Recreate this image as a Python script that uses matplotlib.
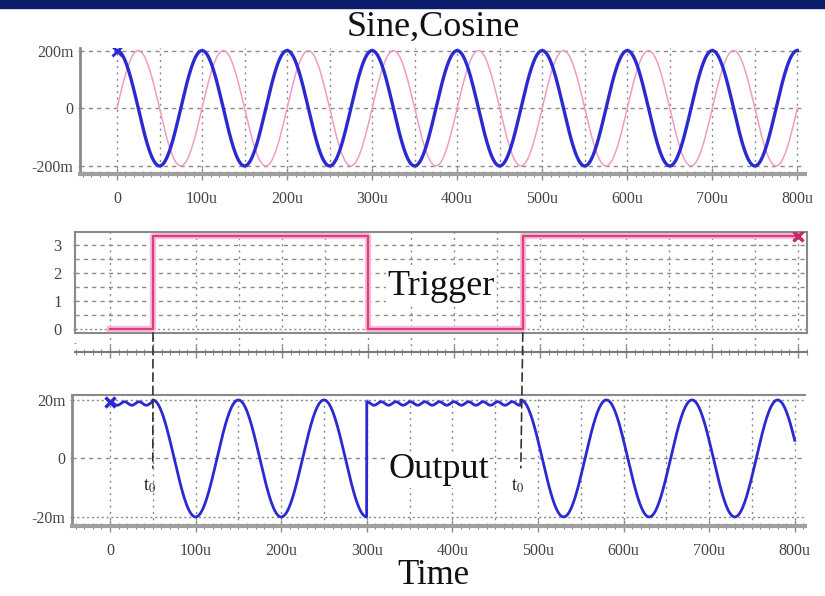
import numpy as np
import matplotlib
matplotlib.use('Agg')
import matplotlib.pyplot as plt
from matplotlib.patches import Rectangle, ConnectionPatch
from matplotlib.ticker import MultipleLocator

plt.rcParams['font.family'] = ['Liberation Serif', 'DejaVu Serif']
plt.rcParams['mathtext.fontset'] = 'stix'

# signal parameters
t_stop = 800e-6
sine_amp = 0.2          # V
sine_period = 100e-6    # s

trig_t = [0, 50e-6, 300e-6, 480e-6, 800e-6]
trig_v = [0, 3.3, 0, 3.3, 3.3]

out_amp = 0.02
out_period = 100e-6
out_hold_level = 0.0188
out_ripple = 0.0006
out_ripple_period = 17e-6
t0_marks = [50e-6, 480e-6]

xtick_vals = [0, 100e-6, 200e-6, 300e-6, 400e-6, 500e-6, 600e-6, 700e-6, 800e-6]
xtick_labels = ['0', '100u', '200u', '300u', '400u', '500u', '600u', '700u', '800u']
y1_ticks = [-0.2, 0, 0.2]
y1_labels = ['-200m', '0', '200m']
y2_ticks = [0, 1, 2, 3]
y3_ticks = [-0.02, 0, 0.02]
y3_labels = ['-20m', '0', '20m']

W, H = 825, 596
t = np.linspace(0, t_stop, 4001)
cosine = sine_amp * np.cos(2 * np.pi * t / sine_period)
sine = sine_amp * np.sin(2 * np.pi * t / sine_period)

# output: holds while trigger is low, oscillates while trigger is high
out = np.empty_like(t)
for i, ti in enumerate(t):
    if ti < 50e-6:
        out[i] = out_hold_level + out_ripple * np.cos(2 * np.pi * ti / out_ripple_period)
    elif ti <= 300e-6:
        out[i] = out_amp * np.cos(2 * np.pi * (ti - 50e-6) / out_period)
    elif ti < 480e-6:
        out[i] = out_hold_level + out_ripple * np.cos(2 * np.pi * (ti - 300e-6) / out_ripple_period)
    else:
        out[i] = out_amp * np.cos(2 * np.pi * (ti - 480e-6) / out_period)

fig = plt.figure(figsize=(W / 100, H / 100), dpi=100)
fig.patches.append(Rectangle((0, 1 - 8 / H), 1, 8 / H, transform=fig.transFigure,
                             color='#0c1b6c', zorder=0))

def px_axes(left, right, top, bottom):
    return fig.add_axes([left / W, 1 - bottom / H, (right - left) / W, (bottom - top) / H])

grid_c = '#8a8a8a'
tick_c = '#444444'
blue = '#2a2ad2'
pink = '#e03a80'

def vgrid(ax, y0, y1):
    for x in np.arange(0, 801e-6, 50e-6):
        ax.plot([x, x], [y0, y1], color=grid_c, lw=1, ls=(0, (1.5, 3)), zorder=1)

def ruler_x(ax):
    ax.xaxis.set_minor_locator(MultipleLocator(10e-6))
    ax.tick_params(axis='x', which='both', direction='inout', colors=grid_c, labelcolor=tick_c)
    ax.tick_params(axis='x', which='major', length=8, width=1)
    ax.tick_params(axis='x', which='minor', length=4, width=0.8)

# ---- Sine, Cosine ----
ax1 = px_axes(80, 805, 48, 174)
ax1.set_xlim(-43.5e-6, 809e-6)
ax1.set_ylim(-0.228, 0.209)
vgrid(ax1, -0.228, 0.209)
for y in y1_ticks:
    ax1.axhline(y, color=grid_c, lw=1, ls=(0, (3, 3)), zorder=1)
ax1.plot(t, sine, color='#f09cc2', lw=1.1, zorder=2)
ax1.plot(t, cosine, color=blue, lw=2.4, zorder=3)
ax1.plot([0], [cosine[0]], marker='x', color=blue, ms=7, mew=2, zorder=4)
ax1.set_yticks(y1_ticks, y1_labels)
ax1.set_xticks(xtick_vals, xtick_labels)
ruler_x(ax1)
ax1.yaxis.set_minor_locator(MultipleLocator(0.02))
ax1.tick_params(axis='y', which='both', direction='inout', colors=grid_c, labelcolor=tick_c, pad=3)
ax1.tick_params(axis='both', labelsize=11.5)
ax1.tick_params(axis='x', pad=8)
for s in ['top', 'right']:
    ax1.spines[s].set_visible(False)
ax1.spines['left'].set_color(grid_c)
ax1.spines['left'].set_linewidth(2)
ax1.spines['bottom'].set_color('#a0a0a0')
ax1.spines['bottom'].set_linewidth(3)

# ---- Trigger ----
ax2 = px_axes(75, 807, 232, 352)
ax2.set_xlim(-40.7e-6, 810.5e-6)
box_bot = -0.14
ax2.set_ylim(-0.82, 3.46)
vgrid(ax2, -0.82, 3.6)
for y in np.arange(0.5, 3.01, 0.5):
    ax2.axhline(y, color=grid_c, lw=1, ls=(0, (3, 3)), zorder=1)
ax2.axhline(0, color=grid_c, lw=1, ls=(0, (1.5, 2)), zorder=1)
ax2.axhline(box_bot, color='#8a8a8a', lw=1.5, zorder=1)
ax2.step(trig_t, trig_v, where='post', color='#f7bcd5', lw=4.5, zorder=2)
ax2.step(trig_t, trig_v, where='post', color=pink, lw=1.6, zorder=3)
ax2.plot([trig_t[-1]], [trig_v[-1]], marker='x', color='#c8286a', ms=7, mew=2.5, zorder=4)
ax2.text(0.5, 0.55, 'Trigger', transform=ax2.transAxes, fontsize=26,
         ha='center', va='center', color='#111111',
         bbox=dict(facecolor='white', edgecolor='none', pad=1))
ax2.set_yticks(y2_ticks)
ax2.set_xticks(xtick_vals, [''] * len(xtick_vals))
ruler_x(ax2)
ax2.yaxis.set_minor_locator(MultipleLocator(0.5))
ax2.tick_params(axis='y', which='both', direction='inout', colors=grid_c, labelcolor=tick_c,
                labelsize=12, pad=8)
ax2.spines['left'].set_bounds(box_bot, 3.46)
ax2.spines['right'].set_bounds(box_bot, 3.46)
for s in ['left', 'top', 'right']:
    ax2.spines[s].set_color('#8a8a8a')
    ax2.spines[s].set_linewidth(1.5)
ax2.spines['bottom'].set_color('#7a7a7a')
ax2.spines['bottom'].set_linewidth(1.5)

# ---- Output ----
ax3 = px_axes(72, 805, 395, 526)
ax3.set_xlim(-44.4e-6, 812e-6)
ax3.set_ylim(-0.0231, 0.0217)
vgrid(ax3, -0.0231, 0.0217)
ax3.axhline(0, color=grid_c, lw=1, ls=(0, (3, 3)), zorder=1)
for y in [-0.02, 0.02]:
    ax3.axhline(y, color=grid_c, lw=1, ls=(0, (1.5, 2)), zorder=1)
ax3.plot(t, out, color=blue, lw=2, zorder=3)
ax3.plot([0], [out[0]], marker='x', color=blue, ms=7, mew=2.5, zorder=4)
ax3.text(0.5, 0.43, 'Output', transform=ax3.transAxes, fontsize=26,
         ha='center', va='center', color='#111111',
         bbox=dict(facecolor='white', edgecolor='none', pad=1))
ax3.set_yticks(y3_ticks, y3_labels)
ax3.set_xticks(xtick_vals, xtick_labels)
ruler_x(ax3)
ax3.yaxis.set_minor_locator(MultipleLocator(0.002))
ax3.tick_params(axis='y', which='both', direction='inout', colors=grid_c, labelcolor=tick_c, pad=3)
ax3.tick_params(axis='both', labelsize=11.5)
ax3.tick_params(axis='x', pad=8)
ax3.spines['right'].set_visible(False)
ax3.spines['top'].set_color('#8a8a8a')
ax3.spines['top'].set_linewidth(1.5)
ax3.spines['left'].set_color(grid_c)
ax3.spines['left'].set_linewidth(2)
ax3.spines['bottom'].set_color('#a0a0a0')
ax3.spines['bottom'].set_linewidth(3)

# t0 markers linking trigger edges to the output
for t0 in t0_marks:
    con = ConnectionPatch(xyA=(t0, box_bot), coordsA=ax2.transData,
                          xyB=(t0, -0.0032), coordsB=ax3.transData,
                          color='#333333', lw=1.2, ls=(0, (5, 3)), zorder=5)
    fig.add_artist(con)
    ax3.text(t0 - 4e-6, -0.0095, 't$_0$', fontsize=13, ha='center', va='center', color='#222222')

fig.text(433 / W, 1 - 36 / H, 'Sine,Cosine', fontsize=26, ha='center', va='baseline', color='#111111')
fig.text(433 / W, 1 - 575 / H, 'Time', fontsize=25, ha='center', va='center', color='#111111')

fig.savefig('out.png', dpi=100)
